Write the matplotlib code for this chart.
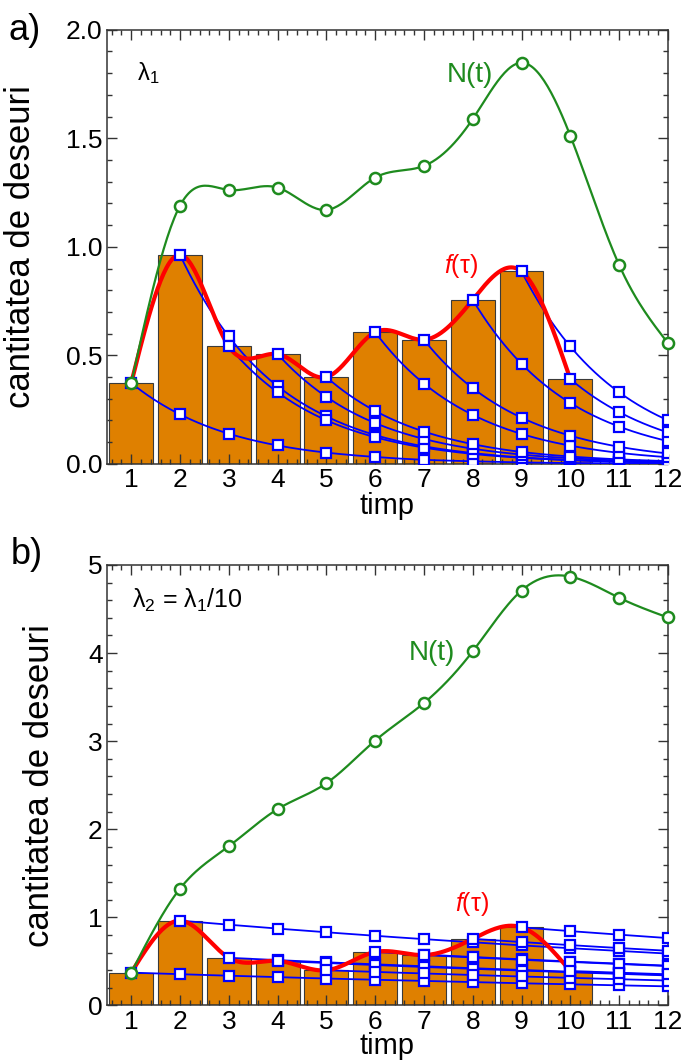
import numpy as np
import matplotlib
matplotlib.use('Agg')
import matplotlib.pyplot as plt
from matplotlib.ticker import MultipleLocator

plt.rcParams['font.family'] = ['Liberation Sans', 'DejaVu Sans']
plt.rcParams['mathtext.fontset'] = 'custom'
plt.rcParams['mathtext.rm'] = 'Liberation Sans'
plt.rcParams['mathtext.it'] = 'Liberation Sans:italic'

# data
t = [1, 2, 3, 4, 5, 6, 7, 8, 9, 10, 11, 12]
f_tau = [0.373, 0.963, 0.541, 0.506, 0.400, 0.607, 0.572, 0.756, 0.887, 0.391]

# panel a (lambda_1): decay of each input, starting at its own time step
decay_a = [
    [0.373, 0.228, 0.139, 0.085, 0.052, 0.032, 0.019, 0.012, 0.007, 0.004, 0.003, 0.002],
    [0.963, 0.587, 0.358, 0.219, 0.133, 0.081, 0.050, 0.030, 0.018, 0.011, 0.007],
    [0.541, 0.330, 0.201, 0.123, 0.075, 0.046, 0.028, 0.017, 0.010, 0.006],
    [0.506, 0.309, 0.188, 0.115, 0.070, 0.043, 0.026, 0.016, 0.010],
    [0.400, 0.244, 0.149, 0.091, 0.055, 0.034, 0.021, 0.013],
    [0.607, 0.370, 0.226, 0.138, 0.084, 0.051, 0.031],
    [0.572, 0.349, 0.213, 0.130, 0.079, 0.048],
    [0.756, 0.461, 0.281, 0.172, 0.105],
    [0.887, 0.541, 0.330, 0.201],
    [0.391, 0.239, 0.145],
]
N_a = [0.373, 1.190, 1.262, 1.273, 1.170, 1.319, 1.373, 1.589, 1.848, 1.512, 0.917, 0.557]

# panel b (lambda_2 = lambda_1/10)
decay_b = [
    [0.373, 0.355, 0.338, 0.322, 0.306, 0.292, 0.278, 0.264, 0.252, 0.240, 0.228, 0.217],
    [0.963, 0.917, 0.873, 0.831, 0.791, 0.753, 0.717, 0.682, 0.650, 0.619, 0.589],
    [0.541, 0.515, 0.490, 0.467, 0.444, 0.423, 0.403, 0.383, 0.365, 0.347],
    [0.506, 0.482, 0.459, 0.437, 0.416, 0.396, 0.377, 0.359, 0.341],
    [0.400, 0.381, 0.363, 0.345, 0.329, 0.313, 0.298, 0.283],
    [0.607, 0.578, 0.550, 0.524, 0.499, 0.475, 0.452],
    [0.572, 0.545, 0.518, 0.494, 0.470, 0.447],
    [0.756, 0.720, 0.685, 0.652, 0.621],
    [0.887, 0.844, 0.804, 0.765],
    [0.391, 0.372, 0.354],
]
N_b = [0.373, 1.327, 1.807, 2.229, 2.523, 3.007, 3.433, 4.020, 4.710, 4.868, 4.628, 4.404]

ORANGE = '#DF8000'
GREEN = '#1E8B1E'
BLUE = '#0000FF'
RED = '#FF0000'


def spline(x, y, n=300):
    # natural cubic spline, just for drawing smooth lines through the points
    x = np.asarray(x, float)
    y = np.asarray(y, float)
    m = len(x)
    h = np.diff(x)
    A = np.zeros((m, m))
    r = np.zeros(m)
    A[0, 0] = A[-1, -1] = 1
    for i in range(1, m - 1):
        A[i, i - 1] = h[i - 1]
        A[i, i] = 2 * (h[i - 1] + h[i])
        A[i, i + 1] = h[i]
        r[i] = 3 * ((y[i + 1] - y[i]) / h[i] - (y[i] - y[i - 1]) / h[i - 1])
    c = np.linalg.solve(A, r)
    b = (y[1:] - y[:-1]) / h - h * (2 * c[:-1] + c[1:]) / 3
    d = (c[1:] - c[:-1]) / (3 * h)
    xs = np.linspace(x[0], x[-1], n)
    k = np.clip(np.searchsorted(x, xs) - 1, 0, m - 2)
    dx = xs - x[k]
    ys = y[k] + b[k] * dx + c[k] * dx ** 2 + d[k] * dx ** 3
    return xs, ys


def draw_panel(ax, decay, N, ymax, major, minor):
    ax.bar(t[:len(f_tau)], f_tau, width=0.9, color=ORANGE, edgecolor='#3a3a3a',
           linewidth=0.8, zorder=1)
    for k, vals in enumerate(decay):
        tk = t[k:k + len(vals)]
        xs, ys = spline(tk, np.log(vals))
        ax.plot(xs, np.exp(ys), color=BLUE, lw=1.3, zorder=3)
    xs, ys = spline(t[:len(f_tau)], f_tau)
    ax.plot(xs, ys, color=RED, lw=3, zorder=4)
    for k, vals in enumerate(decay):
        tk = t[k:k + len(vals)]
        ax.plot(tk, vals, ls='none', marker='s', ms=6.5, mfc='white',
                mec=BLUE, mew=1.6, zorder=5)
    xs, ys = spline(t, N)
    ax.plot(xs, ys, color=GREEN, lw=1.6, zorder=6)
    ax.plot(t, N, ls='none', marker='o', ms=8, mfc='white', mec=GREEN,
            mew=1.8, zorder=7, clip_on=False)

    ax.set_xlim(0.5, 12)
    ax.set_ylim(0, ymax)
    ax.xaxis.set_major_locator(MultipleLocator(1))
    ax.xaxis.set_minor_locator(MultipleLocator(0.2))
    ax.yaxis.set_major_locator(MultipleLocator(major))
    ax.yaxis.set_minor_locator(MultipleLocator(minor))
    ax.tick_params(which='both', direction='in', top=True, right=True,
                   labelsize=19, width=1, color='#333333', pad=3)
    ax.tick_params(which='major', length=7)
    ax.tick_params(which='minor', length=3.5)
    for s in ax.spines.values():
        s.set_color('#333333')
        s.set_linewidth(1.1)
    ax.set_ylabel('cantitatea de deseuri', fontsize=25)


fig = plt.figure(figsize=(6.85, 10.64), dpi=100)
ax1 = fig.add_axes([0.156, 0.564, 0.819, 0.408])
ax2 = fig.add_axes([0.156, 0.055, 0.819, 0.414])

draw_panel(ax1, decay_a, N_a, 2.0, 0.5, 0.1)
ax1.yaxis.set_major_formatter(plt.FormatStrFormatter('%.1f'))
ax1.set_xlabel('timp', fontsize=21, labelpad=0)
ax1.yaxis.set_label_coords(-0.125, 0.5)
ax1.text(1.35, 1.80, r'$\mathrm{\lambda_1}$', fontsize=17, ha='center', va='center')
ax1.text(7.95, 1.79, 'N(t)', color=GREEN, fontsize=20, ha='center', va='center')
ax1.text(7.75, 0.91, r'$\mathit{f}\mathrm{(\tau)}$', color=RED, fontsize=18,
         ha='center', va='center')

draw_panel(ax2, decay_b, N_b, 5, 1, 0.2)
ax2.set_xlabel('timp', fontsize=21, labelpad=-1)
ax2.yaxis.set_label_coords(-0.09, 0.5)
ax2.text(2.16, 4.6, r'$\mathrm{\lambda_2}$ = $\mathrm{\lambda_1}$/10', fontsize=18,
         ha='center', va='center')
ax2.text(7.16, 4.0, 'N(t)', color=GREEN, fontsize=20, ha='center', va='center')
ax2.text(7.98, 1.15, r'$\mathit{f}\mathrm{(\tau)}$', color=RED, fontsize=18,
         ha='center', va='center')

fig.text(0.012, 0.971, 'a)', fontsize=26, va='center')
fig.text(0.015, 0.479, 'b)', fontsize=26, va='center')

fig.savefig('out.png', dpi=100)
